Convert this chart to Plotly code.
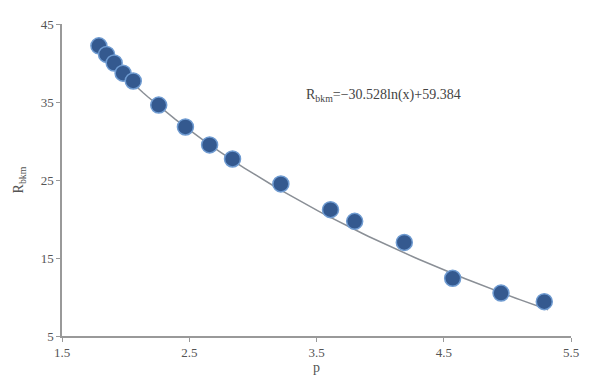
import numpy as np
import plotly.graph_objects as go

x_vals = [1.79, 1.85, 1.91, 1.98, 2.06, 2.26, 2.47, 2.66, 2.84, 3.22, 3.61, 3.80, 4.19, 4.57, 4.95, 5.29]
y_vals = [42.2, 41.1, 40.0, 38.7, 37.7, 34.6, 31.8, 29.5, 27.7, 24.5, 21.2, 19.7, 17.0, 12.4, 10.5, 9.4]
fit_a = -30.528
fit_b = 59.384
x_ticks = [1.5, 2.5, 3.5, 4.5, 5.5]
y_ticks = [5, 15, 25, 35, 45]

xf = np.linspace(1.74, 5.32, 100)
yf = fit_a * np.log(xf) + fit_b

fig = go.Figure()
fig.add_trace(go.Scatter(x=xf, y=yf, mode="lines",
                         line=dict(color="#8a8f96", width=1.5), hoverinfo="skip"))
fig.add_trace(go.Scatter(x=x_vals, y=y_vals, mode="markers",
                         marker=dict(size=16, color="#34598f",
                                     line=dict(color="#6f9bd1", width=1.5))))

font = dict(family="Liberation Serif, Times New Roman, serif", size=13, color="#555555")
fig.update_layout(
    width=596, height=381,
    margin=dict(l=54, r=33, t=16, b=53),
    paper_bgcolor="white", plot_bgcolor="white",
    showlegend=False,
    font=font,
    xaxis=dict(range=[1.5, 5.5], tickvals=x_ticks, ticktext=[str(t) for t in x_ticks],
               showgrid=False, zeroline=False, showline=True, linecolor="#999999",
               linewidth=1.5, ticks="outside", ticklen=4, tickcolor="#999999",
               title=dict(text="p", standoff=2, font=dict(size=14))),
    yaxis=dict(range=[5, 45], tickvals=y_ticks, showgrid=False, zeroline=False,
               showline=True, linecolor="#999999", linewidth=1.5, ticks="outside",
               ticklen=4, tickcolor="#999999", automargin=False,
               title=dict(text="R<sub>bkm</sub>", standoff=14, font=dict(size=14))),
    annotations=[dict(x=0.475, y=0.77, xref="paper", yref="paper", xanchor="left",
                      yanchor="middle", showarrow=False,
                      text="R<sub>bkm</sub>=−30.528ln(x)+59.384",
                      font=dict(size=14, color="#444444"))],
)
fig.write_html("out.html")
